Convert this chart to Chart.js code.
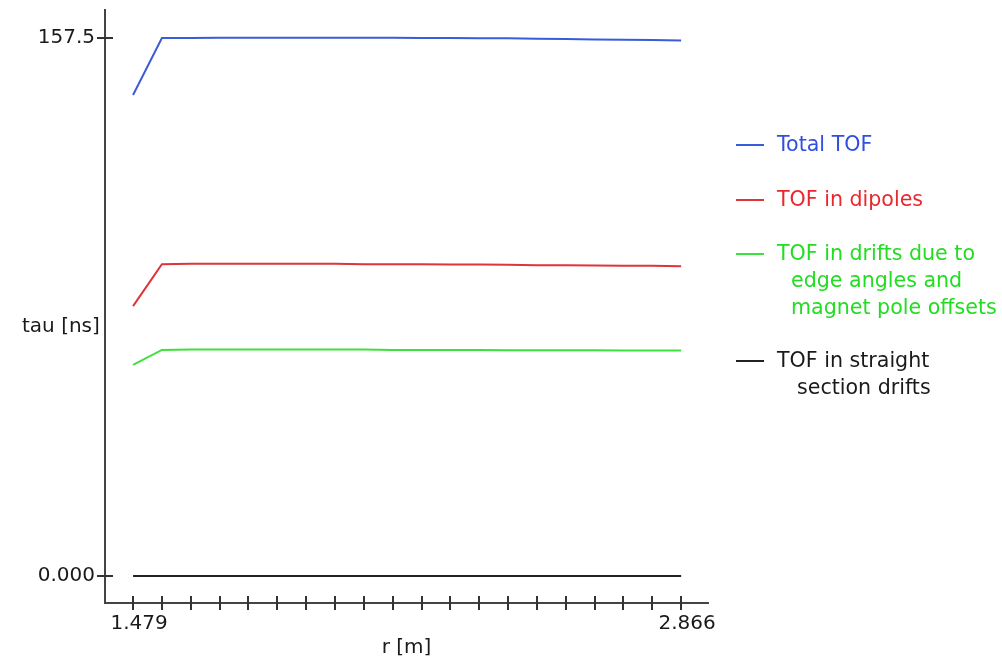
<!DOCTYPE html>
<html>
<head>
<meta charset="utf-8">
<script src="https://cdn.jsdelivr.net/npm/chart.js@4.4.1/dist/chart.umd.min.js"></script>
<style>
    body { margin: 0; background: #fff; }
    #wrap { position: relative; width: 1002px; height: 660px; font-family: 'DejaVu Sans', sans-serif; font-size: 20px; }
    .txt { position: absolute; white-space: pre; line-height: 27px; }
    .leg { font-size: 20.6px; }
    .swatch { position: absolute; width: 28px; height: 2px; }
</style>
</head>
<body>
<div id="wrap">
    <canvas id="chart" width="1002" height="660"></canvas>
    <div class="txt" style="left:22px; top:312px; color:#1a1a1a;">tau [ns]</div>
    <div id="legend"></div>
</div>
<script>
// r [m] sample points
const rValues = [1.479, 1.552, 1.625, 1.698, 1.771, 1.844, 1.917, 1.990, 2.063, 2.136,
                 2.209, 2.282, 2.355, 2.428, 2.501, 2.574, 2.647, 2.720, 2.793, 2.866];

// tau [ns] per series
const totalTof = [140.8, 157.5, 157.5, 157.6, 157.6, 157.6, 157.6, 157.6, 157.6, 157.6,
                  157.5, 157.5, 157.4, 157.4, 157.3, 157.2, 157.1, 157.0, 156.9, 156.8];
const dipoleTof = [79.0, 91.3, 91.4, 91.4, 91.4, 91.4, 91.4, 91.4, 91.3, 91.3,
                   91.3, 91.2, 91.2, 91.1, 91.0, 91.0, 90.9, 90.8, 90.8, 90.7];
const edgeDriftTof = [61.8, 66.2, 66.3, 66.3, 66.3, 66.3, 66.3, 66.3, 66.3, 66.2,
                      66.2, 66.2, 66.2, 66.1, 66.1, 66.1, 66.1, 66.0, 66.0, 66.0];
const straightDriftTof = [0, 0, 0, 0, 0, 0, 0, 0, 0, 0,
                          0, 0, 0, 0, 0, 0, 0, 0, 0, 0];

const yTickValues = [0, 157.5];
const yTickLabels = ['0.000', '157.5'];
const xTickLabels = ['1.479', '2.866'];

const series = [
    { label: ['Total TOF'], data: totalTof, color: '#3a5cd6', text: '#2f4fe0', top: 131, indent: 0 },
    { label: ['TOF in dipoles'], data: dipoleTof, color: '#e0333a', text: '#e8282e', top: 186, indent: 0 },
    { label: ['TOF in drifts due to', 'edge angles and', 'magnet pole offsets'], data: edgeDriftTof, color: '#3ee03e', text: '#22dd22', top: 240, indent: 14 },
    { label: ['TOF in straight', 'section drifts'], data: straightDriftTof, color: '#222', text: '#1a1a1a', top: 347, indent: 20 }
];

// html legend, labels wrap over several lines
const legend = document.getElementById('legend');
series.forEach(s => {
    const sw = document.createElement('div');
    sw.className = 'swatch';
    sw.style.left = '736px';
    sw.style.top = (s.top + 13) + 'px';
    sw.style.background = s.color;
    legend.appendChild(sw);
    s.label.forEach((line, i) => {
        const t = document.createElement('div');
        t.className = 'txt leg';
        t.style.left = (777 + (i > 0 ? s.indent : 0)) + 'px';
        t.style.top = (s.top + i * 27) + 'px';
        t.style.color = s.text;
        t.textContent = line;
        legend.appendChild(t);
    });
});

// tick marks that cross the axis line
const crossTicks = {
    id: 'crossTicks',
    afterDraw(chart) {
        const ctx = chart.ctx;
        const xs = chart.scales.x;
        const ys = chart.scales.y;
        ctx.save();
        ctx.strokeStyle = '#333';
        ctx.lineWidth = 2;
        xs.ticks.forEach(t => {
            const px = Math.round(xs.getPixelForValue(t.value));
            ctx.beginPath();
            ctx.moveTo(px, xs.top - 7);
            ctx.lineTo(px, xs.top + 7);
            ctx.stroke();
        });
        ys.ticks.forEach(t => {
            const py = Math.round(ys.getPixelForValue(t.value));
            ctx.beginPath();
            ctx.moveTo(ys.right - 8, py);
            ctx.lineTo(ys.right + 8, py);
            ctx.stroke();
        });
        ctx.restore();
    }
};

new Chart(document.getElementById('chart'), {
    type: 'line',
    data: {
        datasets: series.map(s => ({
            label: s.label.join(' '),
            data: rValues.map((r, i) => ({ x: r, y: s.data[i] })),
            borderColor: s.color,
            borderWidth: 2,
            pointRadius: 0,
            tension: 0,
            fill: false
        }))
    },
    options: {
        responsive: false,
        animation: false,
        layout: { padding: { top: 10, right: 294, left: 0, bottom: 0 } },
        plugins: { legend: { display: false }, tooltip: { enabled: false } },
        scales: {
            x: {
                type: 'linear',
                min: 1.408,
                max: 2.934,
                afterBuildTicks: scale => { scale.ticks = rValues.map(v => ({ value: v })); },
                afterFit: scale => { scale.height = 57; scale.paddingLeft = 0; scale.paddingRight = 0; },
                border: { display: true, color: '#444', width: 2 },
                grid: { display: true, drawOnChartArea: false, drawTicks: true, tickLength: 7, color: 'rgba(0,0,0,0)' },
                ticks: {
                    autoSkip: false,
                    maxRotation: 0,
                    padding: 2,
                    labelOffset: 6,
                    color: '#1a1a1a',
                    font: { family: 'DejaVu Sans', size: 20 },
                    callback: (v, i, ticks) => i === 0 ? xTickLabels[0] : (i === ticks.length - 1 ? xTickLabels[1] : '')
                },
                title: {
                    display: true,
                    text: 'r [m]',
                    color: '#1a1a1a',
                    font: { family: 'DejaVu Sans', size: 20 },
                    padding: { top: 0, bottom: 0 }
                }
            },
            y: {
                min: -7.9,
                max: 165.7,
                afterBuildTicks: scale => { scale.ticks = yTickValues.map(v => ({ value: v })); },
                afterFit: scale => { scale.width = 105; scale.paddingTop = 0; scale.paddingBottom = 0; },
                border: { display: true, color: '#444', width: 2 },
                grid: { display: true, drawOnChartArea: false, drawTicks: true, tickLength: 8, color: 'rgba(0,0,0,0)' },
                ticks: {
                    padding: 2,
                    color: '#1a1a1a',
                    font: { family: 'DejaVu Sans', size: 20 },
                    callback: v => yTickLabels[yTickValues.indexOf(v)]
                }
            }
        }
    },
    plugins: [crossTicks]
});
</script>
</body>
</html>
